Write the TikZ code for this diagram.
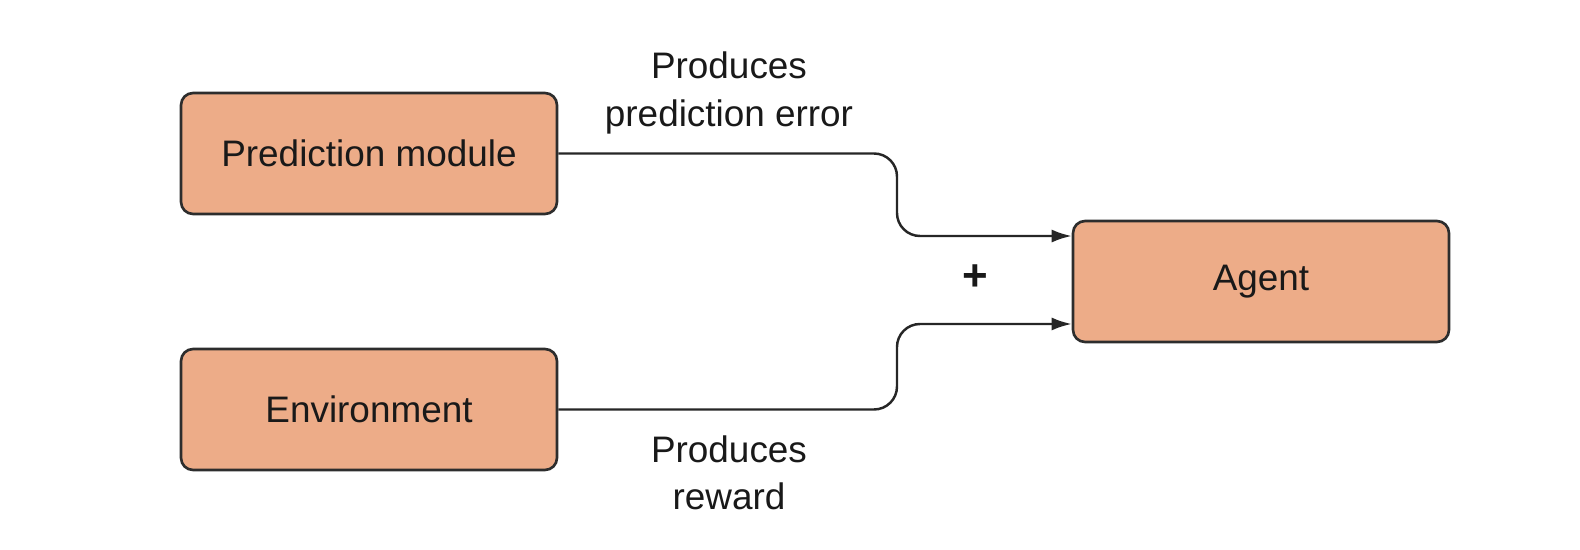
\documentclass[tikz,border=0pt]{standalone}
\usepackage{fontspec}
\setmainfont{Liberation Sans}
\usetikzlibrary{arrows.meta}
\definecolor{boxfill}{RGB}{237,172,136}
\definecolor{boxline}{RGB}{45,45,45}

\begin{document}
\begin{tikzpicture}[x=0.02cm, y=-0.02cm,
    every node/.style={font=\fontsize{21}{27}\selectfont, text=black!90},
    block/.style={rectangle, rounded corners=0.24cm, draw=boxline, line width=1.5pt,
                  fill=boxfill, minimum width=7.52cm, minimum height=2.42cm},
    link/.style={draw=black!85, line width=1.4pt, rounded corners=0.46cm,
                 -{Latex[length=0.4cm, width=0.26cm]}}]
  \useasboundingbox (0,0) rectangle (1580,550);

  \node[block] (pred) at (369,153.5) {Prediction module};
  \node[block] (env) at (369,409.5) {Environment};
  \node[block] (agent) at (1261,281.5) {Agent};

  \node[align=center] (errlabel) at (729,93) {Produces\\prediction error};
  \node[align=center] (rewlabel) at (729,473) {Produces\\reward};
  \node[font=\fontsize{25}{27}\bfseries] (plus) at (975,278) {+};

  \draw[link] (pred.east) -| (897,236) -- ([yshift=0.91cm]agent.west);
  \draw[link] (env.east) -| (897,324) -- ([yshift=-0.85cm]agent.west);
\end{tikzpicture}
\end{document}
